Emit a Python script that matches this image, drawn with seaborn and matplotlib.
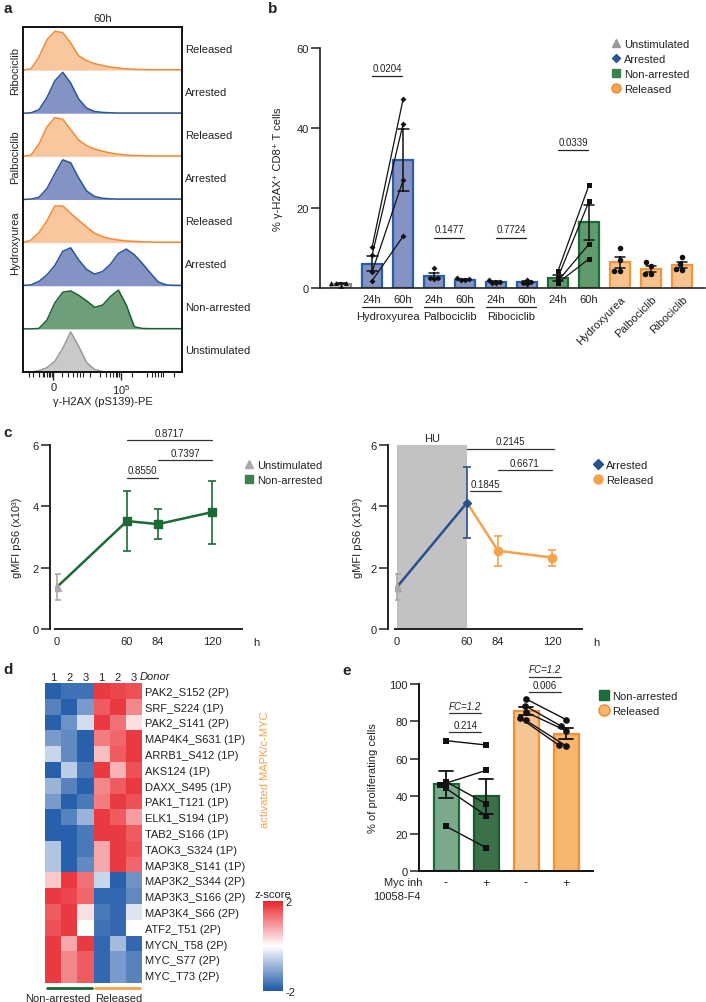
import numpy as np
import pandas as pd
import matplotlib
matplotlib.use("Agg")
import matplotlib.pyplot as plt
import matplotlib.transforms as mtrans
from matplotlib.colors import LinearSegmentedColormap
from matplotlib.lines import Line2D
import seaborn as sns

# ======================= DATA =======================
# ---- panel a: flow histograms (height as fraction of lane) at axis positions (%)
hist_x = np.arange(0, 101, 5)
ribo_released = [0.0, 0.03, 0.30, 0.70, 0.90, 0.87, 0.63, 0.33, 0.22, 0.15, 0.11, 0.07, 0.05, 0.03, 0.02, 0.015, 0.01, 0.01, 0.01, 0.01, 0.01]
ribo_arrested = [0.0, 0.01, 0.08, 0.36, 0.75, 0.95, 0.70, 0.33, 0.12, 0.04, 0.02, 0.01, 0.005, 0.005, 0.005, 0.005, 0.005, 0.005, 0.005, 0.005, 0.005]
palbo_released = [0.0, 0.03, 0.28, 0.68, 0.90, 0.86, 0.62, 0.38, 0.25, 0.17, 0.12, 0.08, 0.05, 0.03, 0.02, 0.015, 0.01, 0.01, 0.01, 0.01, 0.01]
palbo_arrested = [0.0, 0.01, 0.05, 0.25, 0.60, 0.92, 0.85, 0.50, 0.20, 0.07, 0.03, 0.015, 0.01, 0.01, 0.01, 0.01, 0.01, 0.01, 0.01, 0.01, 0.01]
hu_released = [0.0, 0.06, 0.23, 0.50, 0.85, 0.85, 0.68, 0.52, 0.36, 0.22, 0.14, 0.09, 0.06, 0.04, 0.03, 0.02, 0.015, 0.01, 0.01, 0.01, 0.01]
hu_arrested = [0.01, 0.02, 0.10, 0.25, 0.47, 0.80, 0.88, 0.60, 0.38, 0.27, 0.33, 0.50, 0.75, 0.85, 0.72, 0.52, 0.30, 0.09, 0.02, 0.01, 0.01]
nonarrested_hist = [0.0, 0.0, 0.01, 0.20, 0.60, 0.85, 0.88, 0.78, 0.65, 0.50, 0.55, 0.75, 0.90, 0.55, 0.05, 0.01, 0.005, 0.005, 0.005, 0.005, 0.005]
unstim_hist = [0.0, 0.0, 0.03, 0.10, 0.25, 0.55, 0.93, 0.60, 0.22, 0.06, 0.01, 0.0, 0.0, 0.0, 0.0, 0.0, 0.0, 0.0, 0.0, 0.0, 0.0]
a_lane_labels = ['Released', 'Arrested', 'Released', 'Arrested', 'Released', 'Arrested', 'Non-arrested', 'Unstimulated']
a_drug_labels = ['Ribociclib', 'Palbociclib', 'Hydroxyurea']
a_tick_pos = [19, 61.6]
a_tick_labels = ['0', r'$10^{5}$']
a_minor_pos = [4, 6, 10, 12.4, 13.4, 14.9, 16.3, 17, 18, 24.3, 28.5, 31.6, 34.2, 35.8, 37.5, 42, 48.4, 52,
               54.7, 56.4, 58.2, 59.3, 60.6, 68.3, 77.7, 81, 83, 85, 86.5, 88, 95]

# ---- panel b: % gamma-H2AX+ CD8+ T cells (individual donors)
b_conditions = ['Unstimulated', 'HU 24h', 'HU 60h', 'Palbo 24h', 'Palbo 60h', 'Ribo 24h', 'Ribo 60h',
                'Non-arrested 24h', 'Non-arrested 60h', 'Released HU', 'Released Palbo', 'Released Ribo']
b_tick_labels = ['', '24h', '60h', '24h', '60h', '24h', '60h', '24h', '60h', 'Hydroxyurea', 'Palbociclib', 'Ribociclib']
b_unstim = [0.6, 1.2, 1.3, 1.2]
b_hu24 = [10.2, 8.2, 4.0, 1.8]
b_hu60 = [47.2, 41.0, 26.9, 12.9]
b_palbo24 = [5.0, 2.6, 2.5, 2.2]
b_palbo60 = [2.4, 2.2, 2.0, 1.9]
b_ribo24 = [2.1, 1.5, 1.3, 1.2]
b_ribo60 = [2.1, 1.5, 1.2, 1.0]
b_na24 = [4.3, 2.7, 1.8, 1.3]
b_na60 = [25.8, 21.7, 11.0, 7.3]
b_rel_hu = [10.0, 7.0, 4.3, 4.3]
b_rel_palbo = [6.4, 5.6, 3.5, 3.5]
b_rel_ribo = [7.8, 5.9, 4.8, 4.6]
b_values = [b_unstim, b_hu24, b_hu60, b_palbo24, b_palbo60, b_ribo24, b_ribo60,
            b_na24, b_na60, b_rel_hu, b_rel_palbo, b_rel_ribo]
b_group_names = ['Hydroxyurea', 'Palbociclib', 'Ribociclib']
b_group_members = [('HU 24h', 'HU 60h'), ('Palbo 24h', 'Palbo 60h'), ('Ribo 24h', 'Ribo 60h')]
b_p_labels = ['0.0204', '0.1477', '0.7724', '0.0339']
b_p_pairs = [('HU 24h', 'HU 60h'), ('Palbo 24h', 'Palbo 60h'), ('Ribo 24h', 'Ribo 60h'),
             ('Non-arrested 24h', 'Non-arrested 60h')]
b_p_heights = [53.0, 12.6, 12.6, 34.4]
b_legend = ['Unstimulated', 'Arrested', 'Non-arrested', 'Released']

# ---- panel c: gMFI pS6 (x10^3), mean +/- SEM
c_tick_hours = [0, 60, 84, 120]
c_unstim_hours = [0]
c_unstim_mean = [1.37]
c_unstim_sem = [0.43]
c_nonarr_hours = [60, 84, 120]
c_nonarr_mean = [3.52, 3.42, 3.81]
c_nonarr_sem = [0.99, 0.48, 1.03]
c_arr_hours = [60]
c_arr_mean = [4.12]
c_arr_sem = [1.15]
c_rel_hours = [84, 120]
c_rel_mean = [2.55, 2.33]
c_rel_sem = [0.48, 0.26]
c_left_p = [('0.8550', 60, 84, 4.93), ('0.7397', 84, 120, 5.51), ('0.8717', 60, 120, 6.16)]
c_right_p = [('0.1845', 62, 86, 4.50), ('0.6671', 84, 120, 5.17), ('0.2145', 60, 121, 5.88)]
c_hu_window = (0, 60)

# ---- panel d: phosphosite z-scores
d_sites = ['PAK2_S152 (2P)', 'SRF_S224 (1P)', 'PAK2_S141 (2P)', 'MAP4K4_S631 (1P)', 'ARRB1_S412 (1P)',
           'AKS124 (1P)', 'DAXX_S495 (1P)', 'PAK1_T121 (1P)', 'ELK1_S194 (1P)', 'TAB2_S166 (1P)',
           'TAOK3_S324 (1P)', 'MAP3K8_S141 (1P)', 'MAP3K2_S344 (2P)', 'MAP3K3_S166 (2P)', 'MAP3K4_S66 (2P)',
           'ATF2_T51 (2P)', 'MYCN_T58 (2P)', 'MYC_S77 (2P)', 'MYC_T73 (2P)']
d_donors = ['1', '2', '3', '1', '2', '3']
d_zscores = [
    [-1.9, -1.7, -1.7, 1.8, 1.7, 1.6],
    [-1.5, -1.9, -1.2, 1.5, 1.8, 1.1],
    [-1.9, -1.3, -0.4, 1.8, 1.3, 0.3],
    [-1.2, -1.4, -1.9, 1.2, 1.4, 1.8],
    [-0.5, -1.4, -1.9, 0.6, 1.5, 1.8],
    [-1.9, -0.6, -1.6, 1.8, 0.7, 1.6],
    [-0.9, -1.5, -1.9, 1.1, 1.5, 1.8],
    [-1.2, -1.9, -1.6, 1.2, 1.8, 1.6],
    [-1.9, -1.5, -0.9, 1.8, 1.5, 0.9],
    [-1.9, -1.9, -1.6, 1.8, 1.8, 1.5],
    [-0.7, -1.9, -1.6, 0.8, 1.8, 1.6],
    [-0.7, -1.9, -1.4, 0.8, 1.8, 1.4],
    [0.5, 1.8, 1.3, -0.5, -1.9, -1.3],
    [1.8, 1.7, 1.4, -1.8, -1.8, -1.4],
    [1.5, 1.8, 0.3, -1.6, -1.8, -0.3],
    [1.6, 1.8, 0.0, -1.7, -1.8, 0.0],
    [1.8, 0.8, 1.8, -1.8, -0.8, -1.8],
    [1.8, 1.1, 1.5, -1.8, -1.2, -1.5],
    [1.8, 1.1, 1.5, -1.8, -1.2, -1.5],
]

# ---- panel e: % proliferating cells (paired donors)
e_conditions = ['Non-arrested -', 'Non-arrested +', 'Released -', 'Released +']
e_tick_labels = ['-', '+', '-', '+']
e_na_minus = [69.7, 46.0, 47.8, 44.2, 23.9]
e_na_plus = [67.4, 53.8, 36.0, 29.6, 12.5]
e_rel_minus = [92.0, 88.5, 85.0, 82.0, 80.5]
e_rel_plus = [81.0, 77.5, 75.0, 67.2, 66.9]
e_p = [('0.214', 'FC=1.2', 0, 1, 74.2, 84.5), ('0.006', 'FC=1.2', 2, 3, 95.5, 103.9)]

# ======================= STYLE =======================
W, H = 706, 1003
sns.set_theme(style='ticks')
plt.rcParams['font.family'] = ['Liberation Sans', 'DejaVu Sans']
plt.rcParams['font.size'] = 8
plt.rcParams['mathtext.fontset'] = 'custom'
plt.rcParams['mathtext.rm'] = 'Liberation Sans'
plt.rcParams['mathtext.it'] = 'Liberation Sans:italic'
TXT = '#222222'
for k in ['text.color', 'axes.labelcolor', 'xtick.color', 'ytick.color', 'axes.edgecolor']:
    plt.rcParams[k] = TXT
plt.rcParams['axes.linewidth'] = 1.2
plt.rcParams['xtick.labelsize'] = 8
plt.rcParams['ytick.labelsize'] = 8
plt.rcParams['axes.labelsize'] = 8

ORANGE_F, ORANGE_E = '#f9c79d', '#f28a35'
BLUE_F, BLUE_E = '#8593c4', '#2a5597'
GREEN_F, GREEN_E = '#6f9e7a', '#1d6034'
GRAY_F, GRAY_E = '#c9c9c9', '#9a9a9a'


def px_rect(x0, y0, x1, y1):
    return [x0 / W, 1 - y1 / H, (x1 - x0) / W, (y1 - y0) / H]


def fxy(x, y):
    return x / W, 1 - y / H


fig = plt.figure(figsize=(W / 100, H / 100), dpi=100)

# ======================= PANEL A =======================
axa = fig.add_axes(px_rect(23, 28, 182, 373))
lanes = [ribo_released, ribo_arrested, palbo_released, palbo_arrested,
         hu_released, hu_arrested, nonarrested_hist, unstim_hist]
kinds = ['rel', 'arr', 'rel', 'arr', 'rel', 'arr', 'na', 'un']
a_fill = {'rel': ORANGE_F, 'arr': BLUE_F, 'na': GREEN_F, 'un': GRAY_F}
a_edge = {'rel': ORANGE_E, 'arr': BLUE_E, 'na': GREEN_E, 'un': GRAY_E}
n = len(lanes)
for i, (vals, kind, lab) in enumerate(zip(lanes, kinds, a_lane_labels)):
    base = n - 1 - i
    yv = base + np.asarray(vals)
    axa.fill_between(hist_x, base, yv, color=a_fill[kind], lw=0)
    axa.plot(hist_x, yv, color=a_edge[kind], lw=1.1, solid_joinstyle='round')
    axa.text(1.02, (base + 0.5) / n, lab, transform=axa.transAxes, va='center', ha='left', fontsize=8)
for j, name in enumerate(a_drug_labels):
    axa.text(-0.05, 1 - (2 * j + 1) / n, name, transform=axa.transAxes, rotation=90,
             ha='center', va='center', fontsize=8)
axa.set_xlim(0, 100)
axa.set_ylim(0, n)
axa.set_yticks([])
axa.set_xticks(a_tick_pos)
axa.set_xticklabels(a_tick_labels)
axa.set_xticks(a_minor_pos, minor=True)
axa.tick_params(axis='x', which='major', length=6, width=1.0, pad=1.5)
axa.tick_params(axis='x', which='minor', length=3.5, width=0.8)
for s in axa.spines.values():
    s.set_linewidth(1.4)
    s.set_color('#111111')
axa.set_xlabel('γ-H2AX (pS139)-PE', labelpad=0)
axa.set_title('60h', fontsize=8, pad=4)

# ======================= PANEL B =======================
axb = fig.add_axes(px_rect(320, 49, 705, 289))
b_fill = [GRAY_F] + [BLUE_F] * 6 + ['#5f9b6d'] * 2 + ['#f9c38f'] * 3
b_edge = ['#8a8a8a'] + ['#2b5ea8'] * 6 + ['#1b6a37'] * 2 + ['#f3953a'] * 3
df_b = pd.DataFrame({'cond': np.repeat(b_conditions, [len(v) for v in b_values]),
                     'val': np.concatenate(b_values)})
sns.barplot(data=df_b, x='cond', y='val', order=b_conditions, hue='cond', hue_order=b_conditions,
            palette=dict(zip(b_conditions, b_fill)), saturation=1, dodge=False, errorbar='se', capsize=0.35,
            err_kws={'color': '#111111', 'linewidth': 1.1}, width=0.62, linewidth=1.6,
            legend=False, ax=axb)
for p, ec in zip(axb.patches, b_edge):
    p.set_edgecolor(ec)

pt_sets = [
    (['Unstimulated'], '^', 3.6, 'swarm'),
    (['HU 24h', 'HU 60h'], 'D', 3.0, 'strip'),
    (['Palbo 24h', 'Palbo 60h', 'Ribo 24h', 'Ribo 60h'], 'D', 3.0, 'swarm'),
    (['Non-arrested 24h', 'Non-arrested 60h'], 's', 3.6, 'strip'),
    (['Released HU', 'Released Palbo', 'Released Ribo'], 'o', 4.0, 'swarm'),
]
for conds, mk, sz, kind in pt_sets:
    sub = df_b[df_b['cond'].isin(conds)]
    if kind == 'swarm':
        sns.swarmplot(data=sub, x='cond', y='val', order=b_conditions, marker=mk, size=sz,
                      color='#111111', ax=axb, zorder=5)
    else:
        sns.stripplot(data=sub, x='cond', y='val', order=b_conditions, marker=mk, size=sz,
                      color='#111111', jitter=False, ax=axb, zorder=5)

for c1, c2 in [('HU 24h', 'HU 60h'), ('Non-arrested 24h', 'Non-arrested 60h')]:
    i1, i2 = b_conditions.index(c1), b_conditions.index(c2)
    for v1, v2 in zip(b_values[i1], b_values[i2]):
        axb.plot([i1, i2], [v1, v2], color='#111111', lw=0.9, zorder=4)

for lab, (c1, c2), yv in zip(b_p_labels, b_p_pairs, b_p_heights):
    i1, i2 = b_conditions.index(c1), b_conditions.index(c2)
    axb.plot([i1, i2 - 0.05], [yv, yv], color='#222222', lw=0.9)
    axb.text((i1 + i2) / 2, yv + 0.8, lab, ha='center', va='bottom', fontsize=7)

axb.set_xlim(-0.68, 11.74)
axb.set_ylim(0, 60)
axb.set_yticks([0, 20, 40, 60])
axb.set_xticks(range(len(b_conditions)))
axb.set_xticklabels(b_tick_labels)
for lab in axb.get_xticklabels()[9:]:
    lab.set_rotation(45)
    lab.set_ha('right')
    lab.set_rotation_mode('anchor')
axb.tick_params(axis='x', length=0, pad=4)
axb.tick_params(axis='y', length=6.5, width=1.1, pad=1.5)
sns.despine(ax=axb)
axb.set_xlabel('')
axb.set_ylabel('% γ-H2AX⁺ CD8⁺ T cells')
axb.yaxis.set_label_coords(-0.095, 0.5)
trb = mtrans.blended_transform_factory(axb.transData, axb.transAxes)
for name, (c1, c2) in zip(b_group_names, b_group_members):
    i1, i2 = b_conditions.index(c1), b_conditions.index(c2)
    axb.plot([i1 - 0.32, i2 + 0.3], [-0.078, -0.078], transform=trb, color='#222222', lw=0.9, clip_on=False)
    axb.text((i1 + i2) / 2, -0.118, name, transform=trb, ha='center', va='center', fontsize=8)

b_handles = [
    Line2D([], [], ls='', marker='^', ms=6, color='#9a9a9a'),
    Line2D([], [], ls='', marker='D', ms=4.5, color='#2a5597'),
    Line2D([], [], ls='', marker='s', ms=6, color='#3d8050'),
    Line2D([], [], ls='', marker='o', ms=6.5, mfc='#f8a84f', mec='#e88a30'),
]
fig.legend(b_handles, b_legend, loc='upper left', bbox_to_anchor=fxy(610, 40), frameon=False,
           fontsize=8, handlelength=1.0, handletextpad=0.3, labelspacing=0.45, borderpad=0, borderaxespad=0)

# ======================= PANEL C =======================
H_KNOTS = [-60, 0, 60, 84, 120, 240]
P_KNOTS = [-70, 0, 70, 101, 155, 335]


def c_forward(x):
    return np.interp(x, H_KNOTS, P_KNOTS)


def c_inverse(p):
    return np.interp(p, P_KNOTS, H_KNOTS)


NA_C, ARR_C, REL_C, UN_C = '#1c6a35', '#27518c', '#f5a24c', '#a8a8a8'


def style_c(ax, ylab_x, outward):
    ax.set_xscale('function', functions=(c_forward, c_inverse))
    ax.set_xlim(c_inverse(-2), c_inverse(185))
    ax.set_ylim(0, 6)
    ax.set_yticks([0, 2, 4, 6])
    ax.set_xticks(c_tick_hours)
    ax.set_xticklabels([str(h) for h in c_tick_hours])
    ax.xaxis.set_minor_locator(matplotlib.ticker.NullLocator())
    ax.tick_params(axis='x', length=0, pad=5)
    ax.tick_params(axis='y', length=6.5, width=1.1, pad=1.5)
    sns.despine(ax=ax)
    ax.spines['left'].set_position(('outward', outward))
    for s in ('left', 'bottom'):
        ax.spines[s].set_linewidth(1.4)
        ax.spines[s].set_color('#222222')
    ax.set_ylabel('gMFI pS6 (x10³)')
    ax.yaxis.set_label_coords(ylab_x, 0.5)
    ax.text(1.075, -0.07, 'h', transform=ax.transAxes, ha='center', va='center', fontsize=8)


def p_bracket(ax, items):
    for lab, x1, x2, yv in items:
        ax.plot([x1, x2], [yv, yv], color='#333333', lw=0.9, clip_on=False)
        xm = c_inverse((c_forward(x1) + c_forward(x2)) / 2)
        ax.text(xm, yv + 0.08, lab, ha='center', va='bottom', fontsize=7)


errkw = dict(capsize=3, elinewidth=1.2, capthick=1.2, ls='none', zorder=5)

axc1 = fig.add_axes(px_rect(55, 446, 242, 630))
sns.lineplot(x=c_unstim_hours + c_nonarr_hours, y=c_unstim_mean + c_nonarr_mean, color=NA_C, lw=1.8,
             sort=False, ax=axc1, zorder=3)
axc1.errorbar(c_unstim_hours, c_unstim_mean, yerr=c_unstim_sem, marker='^', ms=5.5, color=UN_C, **errkw)
axc1.errorbar(c_nonarr_hours, c_nonarr_mean, yerr=c_nonarr_sem, marker='s', ms=5.5, color=NA_C, **errkw)
style_c(axc1, -0.176, 3.6)
p_bracket(axc1, c_left_p)
c1_handles = [Line2D([], [], ls='', marker='^', ms=6, color=UN_C),
              Line2D([], [], ls='', marker='s', ms=6, color='#3d8050')]
fig.legend(c1_handles, ['Unstimulated', 'Non-arrested'], loc='upper left', bbox_to_anchor=fxy(243, 461),
           frameon=False, fontsize=8, handlelength=1.0, handletextpad=0.3, labelspacing=0.45,
           borderpad=0, borderaxespad=0)

axc2 = fig.add_axes(px_rect(395, 446, 582, 630))
axc2.axvspan(c_hu_window[0], c_hu_window[1], color='#c2c1c3', lw=0, zorder=0)
axc2.text(sum(c_hu_window) / 2, 6.05, 'HU', ha='center', va='bottom', fontsize=8)
sns.lineplot(x=c_unstim_hours + c_arr_hours, y=c_unstim_mean + c_arr_mean, color=ARR_C, lw=1.8,
             sort=False, ax=axc2, zorder=3)
sns.lineplot(x=c_arr_hours + c_rel_hours, y=c_arr_mean + c_rel_mean, color=REL_C, lw=1.8,
             sort=False, ax=axc2, zorder=3)
axc2.errorbar(c_unstim_hours, c_unstim_mean, yerr=c_unstim_sem, marker='^', ms=5.5, color=UN_C, **errkw)
axc2.errorbar(c_rel_hours, c_rel_mean, yerr=c_rel_sem, marker='o', ms=6, color=REL_C, **errkw)
axc2.errorbar(c_arr_hours, c_arr_mean, yerr=c_arr_sem, marker='D', ms=4.5, color=ARR_C, **errkw)
style_c(axc2, -0.171, 5)
p_bracket(axc2, c_right_p)
c2_handles = [Line2D([], [], ls='', marker='D', ms=5, color=ARR_C),
              Line2D([], [], ls='', marker='o', ms=6.5, color=REL_C)]
fig.legend(c2_handles, ['Arrested', 'Released'], loc='upper left', bbox_to_anchor=fxy(592, 461),
           frameon=False, fontsize=8, handlelength=1.0, handletextpad=0.3, labelspacing=0.45,
           borderpad=0, borderaxespad=0)

# ======================= PANEL D =======================
axd = fig.add_axes(px_rect(45, 684, 142, 984))
caxd = fig.add_axes(px_rect(263, 902, 283, 992))
zcmap = LinearSegmentedColormap.from_list('zscore', ['#1e58a8', '#ffffff', '#e8262d'])
df_d = pd.DataFrame(d_zscores, index=d_sites, columns=range(len(d_donors)))
sns.heatmap(df_d, ax=axd, cbar_ax=caxd, cmap=zcmap, vmin=-2, vmax=2,
            xticklabels=d_donors, yticklabels=d_sites)
axd.yaxis.tick_right()
axd.xaxis.tick_top()
axd.tick_params(axis='y', length=0, pad=2, labelsize=8, labelrotation=0)
axd.tick_params(axis='x', length=0, pad=1, labelsize=8, labelrotation=0)
axd.set_xlabel('')
axd.set_ylabel('')
axd.text(5.85, -0.42, 'Donor', style='italic', ha='left', va='center', fontsize=8)
axd.plot([0.1, 2.9], [19.3, 19.3], color='#1d6034', lw=2, clip_on=False)
axd.plot([3.1, 5.9], [19.3, 19.3], color='#f5a04a', lw=2, clip_on=False)
axd.text(2.8, 19.95, 'Non-arrested', ha='right', va='center', fontsize=8)
axd.text(3.1, 19.95, 'Released', ha='left', va='center', fontsize=8)
cbar = axd.collections[0].colorbar
cbar.outline.set_visible(False)
cbar.set_ticks([-2, 2])
cbar.set_ticklabels(['-2', '2'])
caxd.tick_params(length=0, pad=2, labelsize=8)
caxd.set_title('z-score', fontsize=8, pad=3)
fig.text(*fxy(265, 770), 'activated MAPK/c-MYC', rotation=90, color='#f5a04a', ha='center',
         va='center', fontsize=8)

# ======================= PANEL E =======================
axe = fig.add_axes(px_rect(419, 685, 593, 872))
e_values = [e_na_minus, e_na_plus, e_rel_minus, e_rel_plus]
df_e = pd.DataFrame({'cond': np.repeat(e_conditions, [len(v) for v in e_values]),
                     'val': np.concatenate(e_values)})
e_fill = ['#7aa98b', '#3b7049', '#f5c593', '#f8b56d']
e_edge = ['#1b6a37', '#1b5a30', '#f39035', '#f39035']
sns.barplot(data=df_e, x='cond', y='val', order=e_conditions, hue='cond', hue_order=e_conditions,
            palette=dict(zip(e_conditions, e_fill)), saturation=1, dodge=False, errorbar='se', capsize=0.33,
            err_kws={'color': '#111111', 'linewidth': 1.3}, width=0.625, linewidth=1.6,
            legend=False, ax=axe)
for p, ec in zip(axe.patches, e_edge):
    p.set_edgecolor(ec)
axe.set_xlim(-0.675, 3.675)
axe.set_ylim(0, 100)
n_before = len(axe.collections)
sns.swarmplot(data=df_e[df_e['cond'].str.startswith('Non')], x='cond', y='val', order=e_conditions,
              marker='s', size=4.6, color='#111111', ax=axe, zorder=5)
sns.swarmplot(data=df_e[df_e['cond'].str.startswith('Rel')], x='cond', y='val', order=e_conditions,
              marker='o', size=4.8, color='#111111', ax=axe, zorder=5)
e_collections = axe.collections[n_before:]
axe.set_xlim(-0.675, 3.675)
axe.set_ylim(0, 100)
axe.set_xticks(range(4))
axe.set_xticklabels(e_tick_labels, fontsize=9)
axe.tick_params(axis='x', length=0, pad=4)
axe.tick_params(axis='y', length=6.5, width=1.1, pad=1.5)
axe.set_yticks([0, 20, 40, 60, 80, 100])
sns.despine(ax=axe)
for s in ('left', 'bottom'):
    axe.spines[s].set_linewidth(1.4)
    axe.spines[s].set_color('#111111')
axe.set_xlabel('')
axe.set_ylabel('% of proliferating cells')
axe.yaxis.set_label_coords(-0.236, 0.5)
for plab, fclab, i1, i2, yp, yf in e_p:
    axe.plot([i1 + 0.08, i2 - 0.12], [yp, yp], color='#333333', lw=0.9, clip_on=False)
    axe.text((i1 + i2) / 2 - 0.02, yp + 1.2, plab, ha='center', va='bottom', fontsize=7)
    axe.plot([i1 + 0.08, i2 - 0.12], [yf, yf], color='#333333', lw=0.9, clip_on=False)
    axe.text((i1 + i2) / 2 - 0.02, yf + 1.2, fclab, ha='center', va='bottom', fontsize=7, style='italic')
fig.text(*fxy(423, 883), 'Myc inh', ha='right', va='center', fontsize=8)
fig.text(*fxy(421, 897), '10058-F4', ha='right', va='center', fontsize=8)
e_handles = [Line2D([], [], ls='', marker='s', ms=7, color='#1d6a3a'),
             Line2D([], [], ls='', marker='o', ms=8, mfc='#f8b56d', mec='#e88a30')]
fig.legend(e_handles, ['Non-arrested', 'Released'], loc='upper left', bbox_to_anchor=fxy(598, 692),
           frameon=False, fontsize=8, handlelength=1.0, handletextpad=0.3, labelspacing=0.45,
           borderpad=0, borderaxespad=0)

# paired lines in e, matched to swarm point positions after layout is fixed
fig.canvas.draw()
pts = []
for coll in e_collections:
    off = np.asarray(coll.get_offsets())
    pts.extend([tuple(o) for o in off])
pts = np.array(pts)


def locate(cat_idx, val, used):
    best, bi = None, None
    for k, (x, y) in enumerate(pts):
        if k in used or abs(x - cat_idx) > 0.45:
            continue
        d = abs(y - val)
        if best is None or d < best:
            best, bi = d, k
    used.add(bi)
    return pts[bi]


used = set()
for (i1, i2) in [(0, 1), (2, 3)]:
    for v1, v2 in zip(e_values[i1], e_values[i2]):
        p1 = locate(i1, v1, used)
        p2 = locate(i2, v2, used)
        axe.plot([p1[0], p2[0]], [p1[1], p2[1]], color='#111111', lw=1.0, zorder=4)

# ======================= PANEL LABELS =======================
for lab, (x, y) in zip('abcde', [(3, 9), (268, 9), (3, 433), (3, 670), (342, 671)]):
    fig.text(*fxy(x, y), lab, fontsize=11, fontweight='bold', ha='left', va='center')

fig.savefig('out.png', dpi=100)
